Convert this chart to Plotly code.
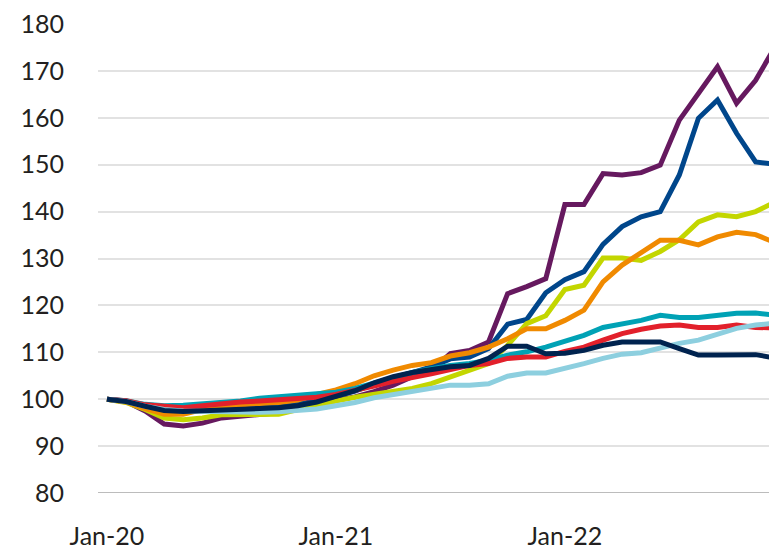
import plotly.graph_objects as go

# Months Jan-20 .. Dec-22
months = ["Jan-20", "Feb-20", "Mar-20", "Apr-20", "May-20", "Jun-20", "Jul-20", "Aug-20", "Sep-20",
          "Oct-20", "Nov-20", "Dec-20", "Jan-21", "Feb-21", "Mar-21", "Apr-21", "May-21", "Jun-21",
          "Jul-21", "Aug-21", "Sep-21", "Oct-21", "Nov-21", "Dec-21", "Jan-22", "Feb-22", "Mar-22",
          "Apr-22", "May-22", "Jun-22", "Jul-22", "Aug-22", "Sep-22", "Oct-22", "Nov-22", "Dec-22"]
tick_labels = ["Jan-20", "Jan-21", "Jan-22"]

# Index values (Jan-20 = 100)
purple = [100, 99.5, 97.5, 94.7, 94.3, 94.9, 96.0, 96.3, 96.6, 97.1, 97.9, 98.7,
          99.8, 100.5, 101.6, 103.0, 104.8, 106.2, 109.7, 110.4, 112.2, 122.5, 124.0, 125.7,
          141.5, 141.5, 148.1, 147.8, 148.3, 149.9, 159.5, 165.2, 170.9, 163.1, 168.0, 175.0]
dark_blue = [100, 99.6, 98.6, 97.8, 97.6, 97.9, 98.3, 98.5, 98.6, 98.7, 99.0, 99.6,
             100.6, 101.7, 103.2, 104.5, 105.6, 106.9, 108.6, 109.0, 110.8, 116.0, 117.0, 122.7,
             125.5, 127.2, 133.0, 136.8, 138.9, 140.0, 147.8, 159.9, 163.8, 156.7, 150.6, 150.1]
lime = [100, 99.3, 97.8, 96.0, 95.6, 96.0, 96.7, 96.8, 96.7, 96.8, 97.8, 98.8,
        99.6, 100.4, 101.0, 101.6, 102.3, 103.3, 104.8, 106.2, 107.6, 111.5, 116.1, 117.8,
        123.4, 124.3, 130.1, 130.1, 129.6, 131.5, 134.0, 137.8, 139.3, 138.9, 140.0, 142.0]
orange = [100, 99.4, 98.0, 96.8, 96.8, 97.8, 98.5, 98.9, 99.1, 99.3, 99.8, 101.0,
          102.0, 103.3, 105.0, 106.2, 107.2, 107.8, 109.2, 109.9, 111.1, 112.9, 115.0, 115.0,
          116.8, 119.0, 125.0, 128.6, 131.4, 133.9, 133.9, 132.9, 134.6, 135.6, 135.1, 133.4]
teal = [100, 99.7, 98.9, 98.6, 98.7, 99.0, 99.3, 99.6, 100.2, 100.5, 100.7, 101.0,
        101.5, 102.3, 103.5, 104.7, 105.7, 106.5, 107.2, 107.6, 108.3, 109.4, 110.1, 111.1,
        112.4, 113.6, 115.3, 116.0, 116.8, 117.9, 117.4, 117.4, 117.9, 118.3, 118.4, 117.9]
red = [100, 99.7, 98.8, 98.4, 98.2, 98.6, 99.1, 99.4, 99.6, 99.8, 100.0, 100.4,
       101.0, 101.8, 102.8, 103.8, 104.5, 105.4, 106.3, 107.2, 107.6, 108.7, 109.0, 109.0,
       110.2, 111.1, 112.6, 114.0, 114.9, 115.6, 115.8, 115.3, 115.3, 115.8, 115.3, 115.2]
light_blue = [100, 99.5, 98.5, 97.8, 97.5, 97.4, 97.4, 97.3, 97.2, 97.3, 97.5, 97.9,
              98.6, 99.3, 100.3, 101.0, 101.6, 102.3, 103.0, 103.0, 103.3, 104.9, 105.6, 105.6,
              106.5, 107.6, 108.7, 109.6, 109.9, 111.0, 111.9, 112.6, 113.9, 115.1, 115.8, 116.2]
navy = [100, 99.5, 98.5, 97.6, 97.4, 97.5, 97.7, 97.8, 98.0, 98.2, 98.6, 99.4,
        100.6, 101.8, 103.5, 104.8, 105.7, 106.3, 106.9, 107.2, 108.7, 111.3, 111.3, 109.7,
        109.8, 110.4, 111.5, 112.2, 112.2, 112.2, 110.8, 109.4, 109.4, 109.5, 109.5, 108.8]

series = [
    (purple, "#66195f"),
    (dark_blue, "#00468b"),
    (lime, "#c3d600"),
    (orange, "#f08a00"),
    (teal, "#00a2b5"),
    (red, "#e2202b"),
    (light_blue, "#8dcfdf"),
    (navy, "#00234f"),
]

x_idx = list(range(len(months)))

fig = go.Figure()
for vals, col in series:
    fig.add_trace(go.Scatter(x=x_idx, y=vals, mode="lines",
                             line=dict(color=col, width=5), showlegend=False))

fig.update_layout(
    width=769, height=552,
    margin=dict(l=98, r=0, t=24, b=59),
    plot_bgcolor="white", paper_bgcolor="white",
    font=dict(family="Lato", size=25, color="#231f20"),
)
fig.update_xaxes(
    range=[-0.47, 34.7],
    tickvals=[months.index(t) for t in tick_labels], ticktext=tick_labels,
    showgrid=False, zeroline=False,
    showline=False,
    ticks="outside", ticklen=21, tickcolor="rgba(0,0,0,0)",
)
fig.update_yaxes(
    range=[80, 180], dtick=10,
    showgrid=True, gridcolor="#e2e2e2", gridwidth=2,
    zeroline=False, showline=False,
    ticks="outside", ticklen=28, tickcolor="rgba(0,0,0,0)",
)
# darker baseline at 80
fig.add_hline(y=80, line=dict(color="#bcbcbc", width=2), layer="below")

# drop the default page margin so the figure sits at the window's corner
fig.write_html("out.html",
               config={"displayModeBar": False},
               post_script="document.body.style.margin='0';document.body.style.overflow='hidden';")
